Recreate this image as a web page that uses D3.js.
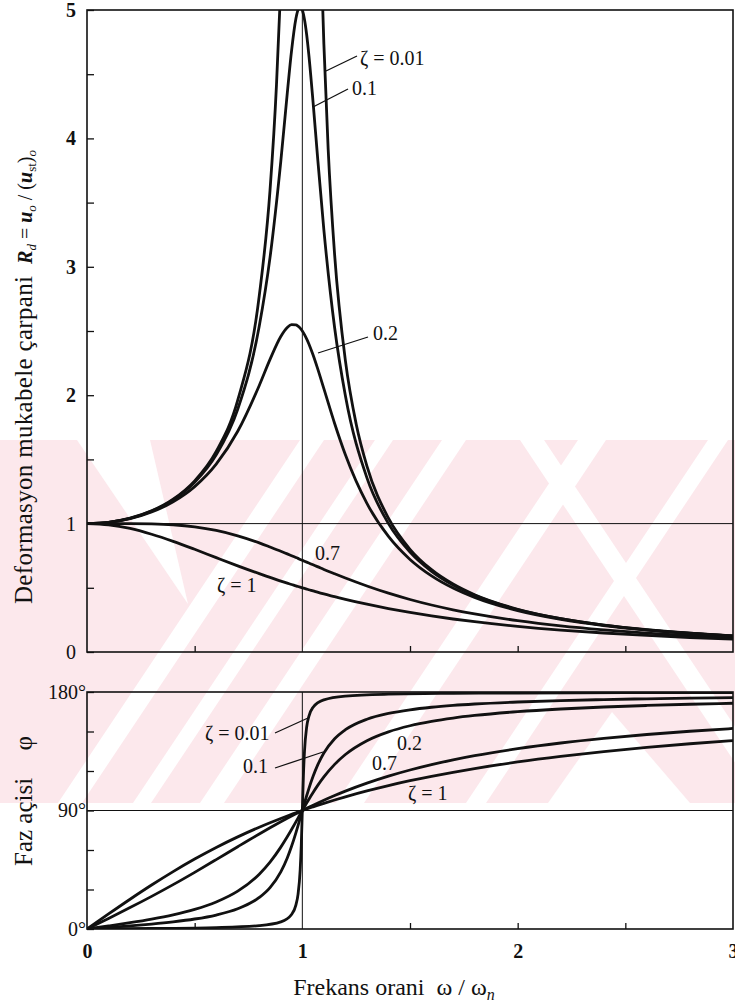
<!DOCTYPE html>
<html>
<head>
<meta charset="utf-8">
<script src="https://cdn.jsdelivr.net/npm/d3@7"></script>
<style>
  body { margin: 0; background: #fff; }
  svg { display: block; }
  text { font-family: "Liberation Serif", "Times New Roman", serif; fill: #111; white-space: pre; }
</style>
</head>
<body>
<svg id="chart" width="735" height="1004"></svg>
<script>
// Frequency ratio samples shared by the damped curves
const ratio = [0, 0.1, 0.2, 0.3, 0.4, 0.5, 0.6, 0.7, 0.8, 0.85, 0.9, 0.93, 0.95, 0.97, 0.98, 0.99,
  1.0, 1.01, 1.02, 1.03, 1.05, 1.07, 1.1, 1.15, 1.2, 1.3, 1.4, 1.5, 1.6, 1.7, 1.8, 2.0, 2.2, 2.4, 2.6, 2.8, 3.0];

// Deformation response factor Rd
const rdZeta010 = [1, 1.010, 1.041, 1.097, 1.185, 1.322, 1.536, 1.891, 2.538, 3.073, 3.821, 4.350, 4.683, 4.931, 5.001, 5.025,
  5.000, 4.926, 4.809, 4.655, 4.279, 3.869, 3.288, 2.525, 1.995, 1.356, 1.000, 0.778, 0.628, 0.521, 0.441, 0.330, 0.259, 0.209, 0.173, 0.146, 0.125];
const rdZeta020 = [1, 1.009, 1.038, 1.090, 1.170, 1.288, 1.463, 1.719, 2.076, 2.279, 2.457, 2.527, 2.549, 2.548, 2.538, 2.522,
  2.500, 2.472, 2.439, 2.401, 2.313, 2.213, 2.051, 1.780, 1.536, 1.157, 0.900, 0.721, 0.593, 0.498, 0.425, 0.322, 0.254, 0.206, 0.171, 0.144, 0.124];
const rdZeta070 = [1, 1.000, 1.000, 0.998, 0.991, 0.975, 0.947, 0.905, 0.850, 0.818, 0.785, 0.764, 0.750, 0.736, 0.729, 0.721,
  0.714, 0.707, 0.700, 0.693, 0.679, 0.665, 0.643, 0.609, 0.576, 0.514, 0.458, 0.409, 0.366, 0.329, 0.297, 0.244, 0.203, 0.172, 0.147, 0.127, 0.111];
const rdZeta100 = [1, 0.990, 0.962, 0.917, 0.862, 0.800, 0.735, 0.671, 0.610, 0.581, 0.552, 0.536, 0.526, 0.515, 0.510, 0.505,
  0.500, 0.495, 0.490, 0.485, 0.476, 0.466, 0.452, 0.431, 0.410, 0.372, 0.338, 0.308, 0.281, 0.257, 0.236, 0.200, 0.171, 0.148, 0.129, 0.113, 0.100];

// Lightly damped case (ζ = 0.01) leaves the top of the plot near resonance
const ratioSharpRd = [0, 0.1, 0.2, 0.3, 0.4, 0.5, 0.6, 0.7, 0.8, 0.85, 0.88, 0.895, 1.0, 1.095, 1.1, 1.12, 1.15, 1.2, 1.25, 1.3,
  1.4, 1.5, 1.6, 1.7, 1.8, 2.0, 2.2, 2.4, 2.6, 2.8, 3.0];
const rdZeta001 = [1, 1.010, 1.042, 1.099, 1.190, 1.333, 1.562, 1.961, 2.775, 3.597, 4.419, 5.0, null, 5.0, 4.736, 3.916, 3.093, 2.269, 1.776, 1.448,
  1.042, 0.800, 0.641, 0.529, 0.446, 0.333, 0.260, 0.210, 0.174, 0.146, 0.125];

// Phase angle φ (degrees)
const phZeta010 = [0, 1.16, 2.39, 3.77, 5.44, 7.59, 10.62, 15.35, 23.96, 31.49, 43.45, 54.0, 62.83, 73.06, 78.58, 84.26,
  90, 95.68, 101.20, 106.47, 116.02, 124.10, 133.67, 144.51, 151.39, 159.35, 163.74, 166.50, 168.41, 169.80, 170.87, 172.41, 173.46, 174.24, 174.84, 175.32, 175.71];
const phZeta020 = [0, 2.31, 4.76, 7.51, 10.78, 14.93, 20.56, 28.77, 41.63, 50.78, 62.18, 70.04, 75.61, 81.34, 84.23, 87.12,
  90, 92.85, 95.66, 98.41, 103.71, 108.70, 115.51, 125.03, 132.51, 143.00, 149.74, 154.36, 157.69, 160.21, 162.18, 165.07, 167.09, 168.60, 169.77, 170.70, 171.47];
const phZeta070 = [0, 8.05, 16.26, 24.78, 33.69, 43.03, 52.70, 62.51, 72.18, 76.87, 81.42, 84.08, 85.81, 87.51, 88.35, 89.18,
  90, 90.81, 91.62, 92.42, 93.99, 95.52, 97.77, 101.33, 104.68, 110.76, 116.10, 120.76, 124.86, 128.45, 131.63, 136.97, 141.27, 144.78, 147.71, 150.18, 152.30];
const phZeta100 = [0, 11.42, 22.62, 33.40, 43.60, 53.13, 61.93, 69.98, 77.32, 80.72, 83.97, 85.85, 87.06, 88.26, 88.84, 89.43,
  90, 90.57, 91.13, 91.70, 92.80, 93.87, 95.45, 97.98, 100.39, 104.86, 108.92, 112.62, 115.97, 119.05, 121.89, 126.87, 131.11, 134.76, 137.92, 140.69, 143.13];
const ratioSharpPh = [0, 0.3, 0.6, 0.8, 0.9, 0.95, 0.97, 0.98, 0.99, 0.995, 1.0, 1.005, 1.01, 1.02, 1.03, 1.05, 1.1, 1.2, 1.4, 1.7, 2.0, 2.5, 3.0];
const phZeta001 = [0, 0.38, 1.07, 2.55, 5.41, 11.03, 18.17, 26.33, 44.86, 63.38, 90, 116.52, 134.86, 153.21, 161.31, 168.42, 174.02, 176.88, 178.33, 178.97, 179.24, 179.45, 179.57];

// Axis ticks and labels
const xTicks = [0, 0.5, 1, 1.5, 2, 2.5, 3];
const xTickLabels = ["0", "1", "2", "3"];
const rdTicks = [0, 0.5, 1, 1.5, 2, 2.5, 3, 3.5, 4, 4.5, 5];
const phTicks = [0, 30, 60, 90, 120, 150, 180];
const phTickLabels = { 0: "0°", 90: "90°", 180: "180°" };

const svg = d3.select("#chart");

const x = d3.scaleLinear().domain([0, 3]).range([87, 733]);
const yRd = d3.scaleLinear().domain([0, 5]).range([652, 10]);
const yPh = d3.scaleLinear().domain([0, 180]).range([929, 692]);

// ---- background watermark band ----
const wm = svg.append("g").attr("class", "watermark");
const wmTop = 440, wmBottom = 803, slope = 1.5;
wm.append("rect").attr("x", 0).attr("y", wmTop).attr("width", 735).attr("height", wmBottom - wmTop).attr("fill", "#fce8ec");
function stripe(x0, w, dir) {
  const dx = (wmBottom - wmTop) / slope * dir;
  return [[x0, wmTop], [x0 + w, wmTop], [x0 + w + dx, wmBottom], [x0 + dx, wmBottom]];
}
const gaps = [
  [[77, wmTop], [150, wmTop], [188, 604]],
  stripe(300, 24, -1), stripe(375, 18, -1), stripe(442, 24, -1), stripe(578, 28, -1), stripe(708, 20, -1), stripe(520, 24, 1),
  [[548, wmBottom], [612, 712], [690, wmBottom]]];
svg.append("clipPath").attr("id", "wmclip").append("rect").attr("x", 0).attr("y", wmTop).attr("width", 735).attr("height", wmBottom - wmTop);
wm.append("g").attr("clip-path", "url(#wmclip)").selectAll("polygon").data(gaps).join("polygon")
  .attr("points", d => d.map(p => p.join(",")).join(" ")).attr("fill", "#fff");

// ---- clip regions ----
const defs = svg.append("defs");
defs.append("clipPath").attr("id", "clipTop").append("rect")
  .attr("x", x(0)).attr("y", yRd(5)).attr("width", x(3) - x(0)).attr("height", yRd(0) - yRd(5));
defs.append("clipPath").attr("id", "clipBot").append("rect")
  .attr("x", x(0)).attr("y", yPh(180)).attr("width", x(3) - x(0)).attr("height", yPh(0) - yPh(180));

// ---- frames and reference lines ----
function frame(yScale, top, bottom) {
  svg.append("rect").attr("x", x(0)).attr("y", yScale(top)).attr("width", x(3) - x(0)).attr("height", yScale(bottom) - yScale(top))
    .attr("fill", "none").attr("stroke", "#111").attr("stroke-width", 1.6);
}
frame(yRd, 5, 0);
frame(yPh, 180, 0);

svg.append("line").attr("x1", x(1)).attr("x2", x(1)).attr("y1", yRd(5)).attr("y2", yRd(0)).attr("stroke", "#111").attr("stroke-width", 1);
svg.append("line").attr("x1", x(0)).attr("x2", x(3)).attr("y1", yRd(1)).attr("y2", yRd(1)).attr("stroke", "#111").attr("stroke-width", 1);
svg.append("line").attr("x1", x(1)).attr("x2", x(1)).attr("y1", yPh(180)).attr("y2", yPh(0)).attr("stroke", "#111").attr("stroke-width", 1);
svg.append("line").attr("x1", x(0)).attr("x2", x(3)).attr("y1", yPh(90)).attr("y2", yPh(90)).attr("stroke", "#111").attr("stroke-width", 1);

// ---- axes ----
function styleAxis(g) {
  g.select(".domain").remove();
  g.selectAll(".tick line").attr("stroke", "#111").attr("stroke-width", 1.3);
  g.selectAll(".tick text").attr("font-family", "Liberation Serif, serif").attr("fill", "#111");
}

// top panel: left axis with integer labels
svg.append("g").attr("transform", `translate(${x(0)},0)`)
  .call(d3.axisLeft(yRd).tickValues(rdTicks).tickSize(-7).tickPadding(11)
    .tickFormat(d => Number.isInteger(d) ? String(d) : ""))
  .call(styleAxis)
  .call(g => g.selectAll(".tick text").attr("font-size", 20)
    .attr("font-family", d => d >= 4 ? "Liberation Sans, sans-serif" : "Liberation Serif, serif")
    .attr("font-weight", d => d >= 2 ? "bold" : "normal"));

// top panel: bottom ticks only
svg.append("g").attr("transform", `translate(0,${yRd(0)})`)
  .call(d3.axisBottom(x).tickValues(xTicks.filter(d => d > 0 && d < 3 && d !== 1)).tickSize(-6).tickFormat(""))
  .call(styleAxis);

// bottom panel: left axis
svg.append("g").attr("transform", `translate(${x(0)},0)`)
  .call(d3.axisLeft(yPh).tickValues(phTicks).tickSize(-7).tickPadding(1)
    .tickFormat(d => phTickLabels[d] || ""))
  .call(styleAxis)
  .call(g => g.selectAll(".tick text").attr("font-size", 20));

// bottom panel: x axis with labels
svg.append("g").attr("transform", `translate(0,${yPh(0)})`)
  .call(d3.axisBottom(x).tickValues(xTicks).tickSize(-6).tickPadding(15)
    .tickFormat(d => Number.isInteger(d) ? xTickLabels[d] : ""))
  .call(styleAxis)
  .call(g => g.selectAll(".tick text").attr("font-size", 20).attr("font-weight", "bold"))
  .call(g => g.selectAll(".tick line").filter(d => d === 0 || d === 1 || d === 3).remove());

// ---- curves ----
const lineRd = d3.line().defined(d => d[1] !== null).x(d => x(d[0])).y(d => yRd(d[1])).curve(d3.curveMonotoneX);
const linePh = d3.line().x(d => x(d[0])).y(d => yPh(d[1])).curve(d3.curveMonotoneX);
const zip = (xs, ys) => xs.map((v, i) => [v, ys[i]]);

const rdSeries = [zip(ratioSharpRd, rdZeta001), zip(ratio, rdZeta010), zip(ratio, rdZeta020), zip(ratio, rdZeta070), zip(ratio, rdZeta100)];
const phSeries = [zip(ratioSharpPh, phZeta001), zip(ratio, phZeta010), zip(ratio, phZeta020), zip(ratio, phZeta070), zip(ratio, phZeta100)];

svg.append("g").attr("clip-path", "url(#clipTop)").selectAll("path").data(rdSeries).join("path")
  .attr("d", lineRd).attr("fill", "none").attr("stroke", "#111").attr("stroke-width", 2.8)
  .attr("stroke-linejoin", "round").attr("stroke-linecap", "round");
svg.append("g").attr("clip-path", "url(#clipBot)").selectAll("path").data(phSeries).join("path")
  .attr("d", linePh).attr("fill", "none").attr("stroke", "#111").attr("stroke-width", 2.8)
  .attr("stroke-linejoin", "round").attr("stroke-linecap", "round");

// ---- curve labels with leaders ----
function label(txt, tx, ty) {
  svg.append("text").attr("x", tx).attr("y", ty).attr("font-size", 20).text(txt);
}
function leader(x1, y1, x2, y2) {
  svg.append("line").attr("x1", x1).attr("y1", y1).attr("x2", x2).attr("y2", y2).attr("stroke", "#111").attr("stroke-width", 1.3);
}
label("ζ = 0.01", 360, 65); leader(326, 71, 357, 56);
label("0.1", 352, 95); leader(313, 107, 348, 89);
label("0.2", 373, 340); leader(318, 353, 368, 337);
label("0.7", 315, 560);
label("ζ = 1", 217, 592);

label("ζ = 0.01", 205, 740); leader(275, 733, 308, 718);
label("0.1", 243, 773); leader(275, 768, 323, 752);
label("0.2", 397, 750);
label("0.7", 372, 770);
label("ζ = 1", 408, 800);

// ---- axis titles ----
svg.append("text").attr("transform", "translate(32,604) rotate(-90)").attr("font-size", 25)
  .attr("textLength", 328).attr("lengthAdjust", "spacing").text("Deformasyon mukabele çarpani");

const t2 = svg.append("text").attr("transform", "translate(32,150) rotate(-90)").attr("font-size", 20).attr("text-anchor", "end");
t2.append("tspan").attr("font-style", "italic").attr("font-weight", "bold").text("R");
t2.append("tspan").attr("font-style", "italic").attr("font-size", 13).attr("dy", 4).text("d");
t2.append("tspan").attr("dy", -4).text(" = ");
t2.append("tspan").attr("font-style", "italic").attr("font-weight", "bold").text("u");
t2.append("tspan").attr("font-style", "italic").attr("font-size", 13).attr("dy", 4).text("o");
t2.append("tspan").attr("dy", -4).text(" / (");
t2.append("tspan").attr("font-style", "italic").attr("font-weight", "bold").text("u");
t2.append("tspan").attr("font-size", 13).attr("dy", 4).text("st");
t2.append("tspan").attr("dy", -4).text(")");
t2.append("tspan").attr("font-style", "italic").attr("font-size", 13).attr("dy", 4).text("o");

svg.append("text").attr("transform", "translate(32,866) rotate(-90)").attr("font-size", 25).text("Faz açisi");
svg.append("text").attr("transform", "translate(32,736) rotate(-90)").attr("font-size", 25).attr("text-anchor", "end").text("φ");

const xt = svg.append("text").attr("x", 394).attr("y", 995).attr("font-size", 24).attr("text-anchor", "middle");
xt.append("tspan").text("Frekans orani  ω / ω");
xt.append("tspan").attr("font-style", "italic").attr("font-size", 16).attr("dy", 5).text("n");
</script>
</body>
</html>
